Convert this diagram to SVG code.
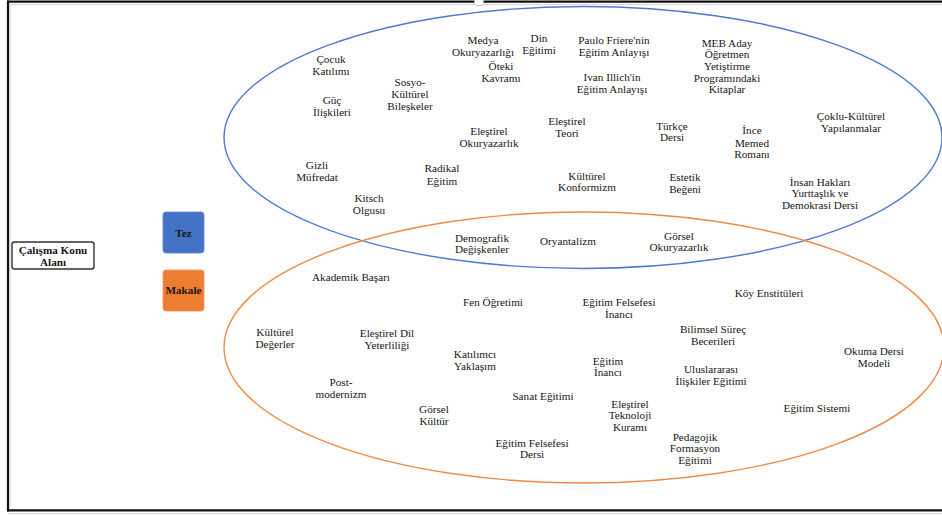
<svg xmlns="http://www.w3.org/2000/svg" width="942" height="516" viewBox="0 0 942 516">
<style>
.t{font-family:"Liberation Serif","Times New Roman",serif;font-size:11.2px;fill:#161616;text-anchor:middle}
.b{font-weight:bold}
.frame{stroke:#111;stroke-width:2.2;fill:none}
.faint{stroke:#d8d8d8;stroke-width:1;fill:none}
.set{fill:none;stroke-width:1.4}
</style>
<rect width="942" height="516" fill="#fff"/>
<g id="frame">
<line class="faint" x1="10" y1="4.5" x2="942" y2="4.5"/>
<line class="faint" x1="10" y1="4.5" x2="10" y2="508"/>
<line class="faint" x1="8" y1="513.5" x2="942" y2="513.5"/>
<line class="frame" x1="7" y1="1.6" x2="942" y2="1.6"/>
<line class="frame" x1="8" y1="0.5" x2="8" y2="511.5"/>
<line class="frame" x1="7" y1="510.4" x2="942" y2="510.4"/>
<rect x="474.5" y="-1" width="9" height="6.5" rx="2" fill="#fff" stroke="#bbb" stroke-width="0.8"/>
</g>
<g id="set-tez"><ellipse class="set" cx="583" cy="137.5" rx="359" ry="131" stroke="#4a7bd0"/></g>
<g id="set-makale"><ellipse class="set" cx="584" cy="347.5" rx="360" ry="135.5" stroke="#ef8a45"/></g>
<g id="connectors"></g>
<g id="calisma-konu-alani">
<rect x="12" y="242" width="82" height="27" rx="2.5" fill="#fff" stroke="#333" stroke-width="1.4"/>
<text class="t b"><tspan x="53" y="253.8">Çalışma Konu</tspan><tspan x="53" y="265.5">Alanı</tspan></text>
</g>
<g id="legend-tez">
<rect x="163" y="212" width="41" height="41" rx="3" fill="#4472c4" stroke="#5a86d0" stroke-width="0.8"/>
<text class="t b" x="183.5" y="237.1">Tez</text>
</g>
<g id="legend-makale">
<rect x="163" y="270" width="41" height="41" rx="3" fill="#ed7d31" stroke="#f0935a" stroke-width="0.8"/>
<text class="t b" x="183.5" y="294.1">Makale</text>
</g>
<g id="cocuk-katilimi"><text class="t"><tspan x="331" y="63.1">Çocuk</tspan><tspan x="331" y="74.8">Katılımı</tspan></text></g>
<g id="guc-iliskileri"><text class="t"><tspan x="332" y="103.8">Güç</tspan><tspan x="332" y="115.5">İlişkileri</tspan></text></g>
<g id="sosyo-kulturel"><text class="t"><tspan x="410" y="85.5">Sosyo-</tspan><tspan x="410" y="97.6">Kültürel</tspan><tspan x="410" y="109.8">Bileşkeler</tspan></text></g>
<g id="medya-okuryazarligi"><text class="t"><tspan x="483" y="43.8">Medya</tspan><tspan x="483" y="55.5">Okuryazarlığı</tspan></text></g>
<g id="din-egitimi"><text class="t"><tspan x="539" y="41.5">Din</tspan><tspan x="539" y="53.6">Eğitimi</tspan></text></g>
<g id="oteki-kavrami"><text class="t"><tspan x="501" y="69.8">Öteki</tspan><tspan x="501" y="82.1">Kavramı</tspan></text></g>
<g id="paulo-friere"><text class="t"><tspan x="614" y="43.8">Paulo Friere'nin</tspan><tspan x="614" y="56.1">Eğitim Anlayışı</tspan></text></g>
<g id="ivan-illich"><text class="t"><tspan x="612" y="81.1">Ivan Illich'in</tspan><tspan x="612" y="93.1">Eğitim Anlayışı</tspan></text></g>
<g id="meb-aday"><text class="t"><tspan x="727" y="46.5">MEB Aday</tspan><tspan x="727" y="57.8">Öğretmen</tspan><tspan x="727" y="69.8">Yetiştirme</tspan><tspan x="727" y="81.5">Programındaki</tspan><tspan x="727" y="93.1">Kitaplar</tspan></text></g>
<g id="coklu-kulturel"><text class="t"><tspan x="851" y="119.8">Çoklu-Kültürel</tspan><tspan x="851" y="131.5">Yapılanmalar</tspan></text></g>
<g id="elestirel-okuryazarlik"><text class="t"><tspan x="489" y="134.8">Eleştirel</tspan><tspan x="489" y="146.5">Okuryazarlık</tspan></text></g>
<g id="elestirel-teori"><text class="t"><tspan x="567" y="124.5">Eleştirel</tspan><tspan x="567" y="136.5">Teori</tspan></text></g>
<g id="turkce-dersi"><text class="t"><tspan x="672" y="129.8">Türkçe</tspan><tspan x="672" y="141.1">Dersi</tspan></text></g>
<g id="ince-memed"><text class="t"><tspan x="752" y="133.8">İnce</tspan><tspan x="752" y="146.5">Memed</tspan><tspan x="752" y="158.1">Romanı</tspan></text></g>
<g id="gizli-mufredat"><text class="t"><tspan x="317" y="168.8">Gizli</tspan><tspan x="317" y="180.5">Müfredat</tspan></text></g>
<g id="radikal-egitim"><text class="t"><tspan x="442" y="172.1">Radikal</tspan><tspan x="442" y="184.5">Eğitim</tspan></text></g>
<g id="kulturel-konformizm"><text class="t"><tspan x="587" y="179.5">Kültürel</tspan><tspan x="587" y="191.1">Konformizm</tspan></text></g>
<g id="estetik-begeni"><text class="t"><tspan x="685" y="181.1">Estetik</tspan><tspan x="685" y="193.1">Beğeni</tspan></text></g>
<g id="insan-haklari"><text class="t"><tspan x="820" y="185.5">İnsan Hakları</tspan><tspan x="820" y="197.1">Yurttaşlık ve</tspan><tspan x="820" y="208.8">Demokrasi Dersi</tspan></text></g>
<g id="kitsch-olgusu"><text class="t"><tspan x="369" y="202.1">Kitsch</tspan><tspan x="369" y="213.8">Olgusu</tspan></text></g>
<g id="demografik-degiskenler"><text class="t"><tspan x="482" y="241.5">Demografik</tspan><tspan x="482" y="253.1">Değişkenler</tspan></text></g>
<g id="oryantalizm"><text class="t" x="568" y="244.5">Oryantalizm</text></g>
<g id="gorsel-okuryazarlik"><text class="t"><tspan x="679" y="239.8">Görsel</tspan><tspan x="679" y="251.1">Okuryazarlık</tspan></text></g>
<g id="akademik-basari"><text class="t" x="351" y="280.5">Akademik Başarı</text></g>
<g id="fen-ogretimi"><text class="t" x="493" y="306.1">Fen Öğretimi</text></g>
<g id="egitim-felsefesi-inanci"><text class="t"><tspan x="619" y="306.1">Eğitim Felsefesi</tspan><tspan x="619" y="317.8">İnancı</tspan></text></g>
<g id="koy-enstituleri"><text class="t" x="769" y="297.1">Köy Enstitüleri</text></g>
<g id="kulturel-degerler"><text class="t"><tspan x="275" y="336.1">Kültürel</tspan><tspan x="275" y="347.8">Değerler</tspan></text></g>
<g id="elestirel-dil"><text class="t"><tspan x="387" y="337.1">Eleştirel Dil</tspan><tspan x="387" y="348.8">Yeterliliği</tspan></text></g>
<g id="bilimsel-surec"><text class="t"><tspan x="713" y="333.1">Bilimsel Süreç</tspan><tspan x="713" y="344.8">Becerileri</tspan></text></g>
<g id="okuma-dersi"><text class="t"><tspan x="874" y="354.8">Okuma Dersi</tspan><tspan x="874" y="366.5">Modeli</tspan></text></g>
<g id="katilimci-yaklasim"><text class="t"><tspan x="475" y="358.1">Katılımcı</tspan><tspan x="475" y="369.8">Yaklaşım</tspan></text></g>
<g id="egitim-inanci"><text class="t"><tspan x="608" y="364.8">Eğitim</tspan><tspan x="608" y="375.8">İnancı</tspan></text></g>
<g id="uluslararasi"><text class="t"><tspan x="711" y="373.1">Uluslararası</tspan><tspan x="711" y="384.8">İlişkiler Eğitimi</tspan></text></g>
<g id="post-modernizm"><text class="t"><tspan x="341" y="386.1">Post-</tspan><tspan x="341" y="398.1">modernizm</tspan></text></g>
<g id="sanat-egitimi"><text class="t" x="543" y="399.8">Sanat Eğitimi</text></g>
<g id="elestirel-teknoloji"><text class="t"><tspan x="630" y="407.8">Eleştirel</tspan><tspan x="630" y="419.1">Teknoloji</tspan><tspan x="630" y="430.5">Kuramı</tspan></text></g>
<g id="egitim-sistemi"><text class="t" x="817" y="412.1">Eğitim Sistemi</text></g>
<g id="gorsel-kultur"><text class="t"><tspan x="434" y="413.1">Görsel</tspan><tspan x="434" y="424.8">Kültür</tspan></text></g>
<g id="pedagojik-formasyon"><text class="t"><tspan x="695" y="440.5">Pedagojik</tspan><tspan x="695" y="452.1">Formasyon</tspan><tspan x="695" y="463.8">Eğitimi</tspan></text></g>
<g id="egitim-felsefesi-dersi"><text class="t"><tspan x="532" y="446.5">Eğitim Felsefesi</tspan><tspan x="532" y="457.8">Dersi</tspan></text></g>
</svg>
